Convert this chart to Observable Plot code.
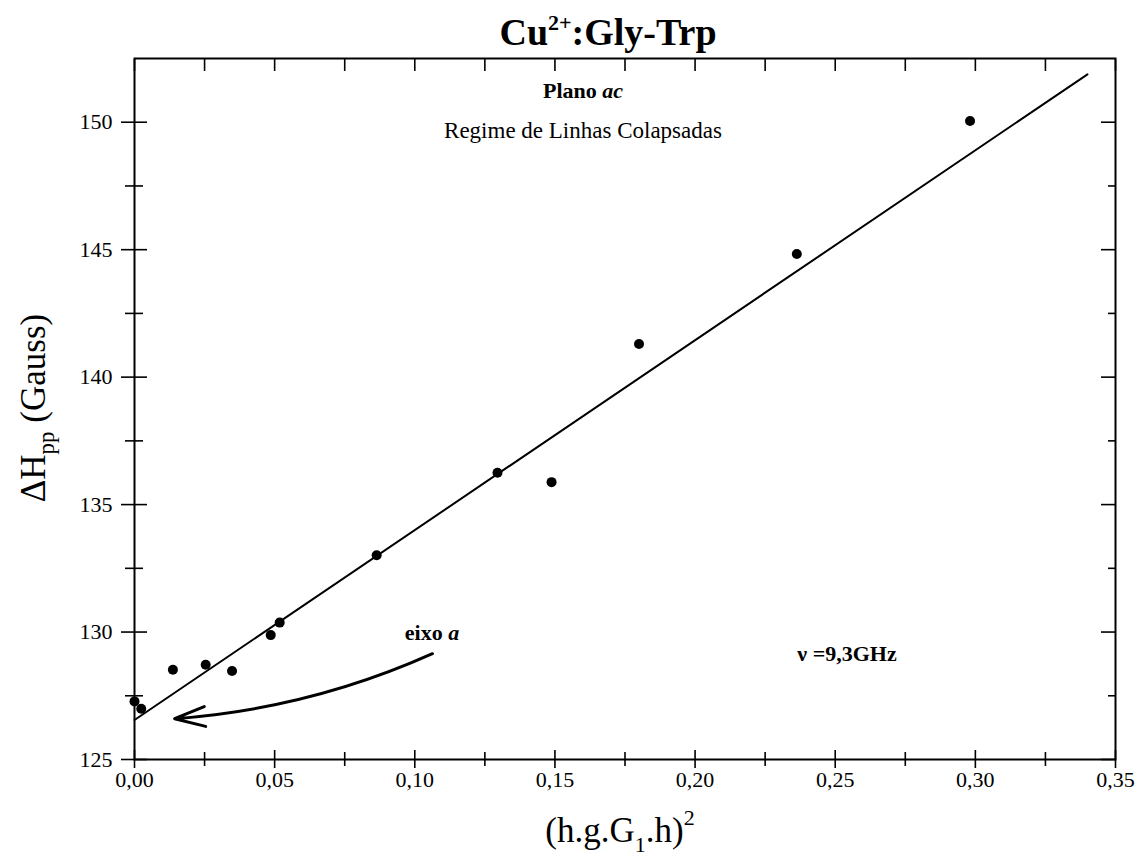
<!DOCTYPE html>
<html><head><meta charset="utf-8">
<script src="https://cdn.jsdelivr.net/npm/d3@7"></script>
<script src="https://cdn.jsdelivr.net/npm/@observablehq/plot@0.6"></script>
<style>body{margin:0;background:#fff}</style>
</head><body><div id="chart"></div>
<script>
// ---- data ----
const xValues = [0.000, 0.0024, 0.0137, 0.0254, 0.0348, 0.0486, 0.0518, 0.0864, 0.1295, 0.1488, 0.1800, 0.2363, 0.2981];
const yValues = [127.28, 126.99, 128.52, 128.72, 128.47, 129.88, 130.37, 133.01, 136.25, 135.88, 141.3, 144.83, 150.05];
const fitX = [0.000, 0.340];
const fitY = [126.55, 151.88];
const arrowStart = [0.1063, 129.15];
const arrowEnd = [0.0143, 126.60];
const xMajor = [0, 0.05, 0.10, 0.15, 0.20, 0.25, 0.30, 0.35];
const xMinor = [0.025, 0.075, 0.125, 0.175, 0.225, 0.275, 0.325];
const yMajor = [125, 130, 135, 140, 145, 150];
const yMinor = [127.5, 132.5, 137.5, 142.5, 147.5];

const points = xValues.map((x, i) => ({x, y: yValues[i]}));
const fit = fitX.map((x, i) => ({x, y: fitY[i]}));
const arrowData = [{x1: arrowStart[0], y1: arrowStart[1], x2: arrowEnd[0], y2: arrowEnd[1]}];
const fmt = d => d3.format(".2f")(d).replace(".", ",");

const plot = Plot.plot({
  width: 1137,
  height: 865,
  marginTop: 58,
  marginLeft: 134,
  marginRight: 22,
  marginBottom: 106,
  style: {fontFamily: "'Liberation Serif', serif", fontSize: "22px", color: "black", background: "white"},
  x: {domain: [0, 0.35]},
  y: {domain: [125, 152.5]},
  marks: [
    Plot.frame({strokeWidth: 2}),
    // bottom axis: ticks crossing the axis line
    Plot.axisX({anchor: "bottom", ticks: xMajor, tickSize: 9, tickPadding: 3, tickFormat: fmt, label: null, strokeWidth: 1.6}),
    Plot.axisX({anchor: "bottom", ticks: xMajor, tickSize: -9, fill: "none", label: null, strokeWidth: 1.6}),
    Plot.axisX({anchor: "bottom", ticks: xMinor, tickSize: 7, fill: "none", label: null, strokeWidth: 1.6}),
    Plot.axisX({anchor: "bottom", ticks: xMinor, tickSize: -7, fill: "none", label: null, strokeWidth: 1.6}),
    // top axis: inward ticks
    Plot.axisX({anchor: "top", ticks: xMajor.concat(xMinor), tickSize: -12, fill: "none", label: null, strokeWidth: 1.6}),
    // left axis: ticks crossing
    Plot.axisY({anchor: "left", ticks: yMajor, tickSize: 13, tickPadding: 9, tickFormat: d => d, label: null, strokeWidth: 1.6}),
    Plot.axisY({anchor: "left", ticks: yMajor, tickSize: -13, fill: "none", label: null, strokeWidth: 1.6}),
    Plot.axisY({anchor: "left", ticks: yMinor, tickSize: 9, fill: "none", label: null, strokeWidth: 1.6}),
    Plot.axisY({anchor: "left", ticks: yMinor, tickSize: -9, fill: "none", label: null, strokeWidth: 1.6}),
    // right axis: inward ticks
    Plot.axisY({anchor: "right", ticks: yMajor, tickSize: -15, fill: "none", label: null, strokeWidth: 1.6}),
    Plot.axisY({anchor: "right", ticks: yMinor, tickSize: -8, fill: "none", label: null, strokeWidth: 1.6}),
    Plot.line(fit, {x: "x", y: "y", stroke: "black", strokeWidth: 2}),
    Plot.dot(points, {x: "x", y: "y", r: 5, fill: "black", stroke: "none"}),
    Plot.arrow(arrowData, {x1: "x1", y1: "y1", x2: "x2", y2: "y2", bend: 10, headLength: 16, headAngle: 36, stroke: "black", strokeWidth: 3})
  ]
});

const svg = d3.select(plot);
const serif = "'Liberation Serif', serif";

// Title
const t = svg.append("text").attr("x", 608).attr("y", 45).attr("text-anchor", "middle")
  .attr("font-family", serif).attr("font-weight", "bold").attr("font-size", 38).attr("fill", "black");
t.append("tspan").text("Cu");
t.append("tspan").attr("dy", -15).attr("font-size", 22).text("2+");
t.append("tspan").attr("dy", 15).text(":Gly-Trp");

// Annotations
const a1 = svg.append("text").attr("x", 583).attr("y", 98).attr("text-anchor", "middle")
  .attr("font-family", serif).attr("font-weight", "bold").attr("font-size", 22);
a1.append("tspan").text("Plano ");
a1.append("tspan").attr("font-style", "italic").text("ac");
svg.append("text").attr("x", 583).attr("y", 138).attr("text-anchor", "middle")
  .attr("font-family", serif).attr("font-size", 23).text("Regime de Linhas Colapsadas");
const a3 = svg.append("text").attr("x", 432).attr("y", 640)
  .attr("font-family", serif).attr("font-weight", "bold").attr("font-size", 22);
a3.append("tspan").text("eixo ");
a3.append("tspan").attr("font-style", "italic").text("a");
svg.append("text").attr("x", 847).attr("y", 661)
  .attr("font-family", serif).attr("font-weight", "bold").attr("font-size", 22).text("ν =9,3GHz");

// Y label
const yl = svg.append("text").attr("transform", "translate(45,408) rotate(-90)").attr("text-anchor", "middle")
  .attr("font-family", serif).attr("font-size", 35);
yl.append("tspan").text("ΔH");
yl.append("tspan").attr("dy", 9).attr("font-size", 23).text("pp");
yl.append("tspan").attr("dy", -9).text(" (Gauss)");

// X label
const xl = svg.append("text").attr("x", 620).attr("y", 842).attr("text-anchor", "middle")
  .attr("font-family", serif).attr("font-size", 35);
xl.append("tspan").text("(h.g.G");
xl.append("tspan").attr("dy", 10).attr("font-size", 22).text("1");
xl.append("tspan").attr("dy", -10).text(".h)");
xl.append("tspan").attr("dy", -17).attr("font-size", 22).text("2");

document.getElementById("chart").append(plot);
</script>
</body></html>
